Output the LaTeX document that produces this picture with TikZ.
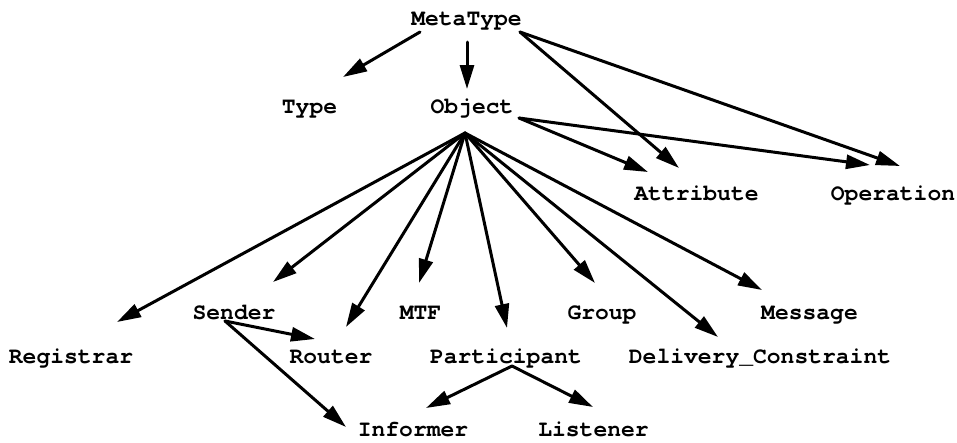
\documentclass[tikz,border=0pt]{standalone}
\usepackage{fontspec}
\newfontfamily\curfont{TeX Gyre Cursor}
\usetikzlibrary{arrows.meta}
\begin{document}
\begin{tikzpicture}[x=1pt,y=-1pt,
  lbl/.style={font=\fontsize{23}{24}\selectfont\curfont\bfseries, anchor=base, inner sep=0pt},
  arr/.style={line width=3pt, line cap=round, -{Triangle[length=24pt,width=14pt]}}]
\useasboundingbox[fill=white] (0,0) rectangle (957,442);
% nodes
\node[lbl] (MetaType) at (466.5,25) {MetaType};
\node[lbl] (Type) at (309.5,113) {Type};
\node[lbl] (Object) at (472,113) {Object};
\node[lbl] (Attribute) at (696.5,200.5) {Attribute};
\node[lbl] (Operation) at (893,200.5) {Operation};
\node[lbl] (Sender) at (234,319.5) {Sender};
\node[lbl] (MTF) at (420.5,319.5) {MTF};
\node[lbl] (Group) at (602,319.5) {Group};
\node[lbl] (Message) at (809.5,319.5) {Message};
\node[lbl] (Registrar) at (71,363.5) {Registrar};
\node[lbl] (Router) at (331,363.5) {Router};
\node[lbl] (Participant) at (506,363.5) {Participant};
\node[lbl] (Delivery) at (760,363.5) {Delivery\_Constraint};
\node[lbl] (Informer) at (413,436.5) {Informer};
\node[lbl] (Listener) at (593.5,436.5) {Listener};
% ports
\coordinate (mt-l) at (420,32);
\coordinate (mt-c) at (467,42);
\coordinate (mt-r) at (520,32);
\coordinate (ty-in) at (343,77);
\coordinate (ob-in) at (467,89);
\coordinate (ob-r) at (519,118);
\coordinate (ob-fan) at (465,133);
\coordinate (at-in1) at (648,172);
\coordinate (at-in2) at (679,168);
\coordinate (op-in1) at (870,165);
\coordinate (op-in2) at (900,166);
\coordinate (re-in) at (117,322);
\coordinate (se-in) at (273,282);
\coordinate (ro-in1) at (346,327);
\coordinate (mtf-in) at (419,283);
\coordinate (pa-in) at (507,328);
\coordinate (gr-in) at (595,283);
\coordinate (dc-in) at (718,337);
\coordinate (me-in) at (762,290);
\coordinate (se-out) at (225,321);
\coordinate (ro-in2) at (315,339);
\coordinate (in-in1) at (346,427);
\coordinate (pa-out) at (512,366);
\coordinate (in-in2) at (426,408);
\coordinate (li-in) at (593,407);
% connectors
\draw[arr] (mt-l) -- (ty-in);
\draw[arr] (mt-c) -- (ob-in);
\draw[arr] (mt-r) -- (at-in2);
\draw[arr] (mt-r) -- (op-in2);
\draw[arr] (ob-r) -- (at-in1);
\draw[arr] (ob-r) -- (op-in1);
\draw[arr] (ob-fan) -- (re-in);
\draw[arr] (ob-fan) -- (se-in);
\draw[arr] (ob-fan) -- (ro-in1);
\draw[arr] (ob-fan) -- (mtf-in);
\draw[arr] (ob-fan) -- (pa-in);
\draw[arr] (ob-fan) -- (gr-in);
\draw[arr] (ob-fan) -- (dc-in);
\draw[arr] (ob-fan) -- (me-in);
\draw[arr] (se-out) -- (ro-in2);
\draw[arr] (se-out) -- (in-in1);
\draw[arr] (pa-out) -- (in-in2);
\draw[arr] (pa-out) -- (li-in);
\end{tikzpicture}
\end{document}
